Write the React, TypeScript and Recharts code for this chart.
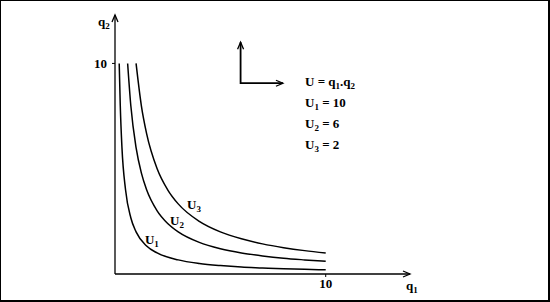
import { LineChart, Line, XAxis, YAxis, Scatter } from 'recharts';

// indifference curves (q1 -> q2)
const q1Top = [1, 1.25, 1.5, 2, 2.5, 3, 4, 5, 6, 7, 8, 9, 10];
const q2Top = [10, 8, 6.67, 5, 4, 3.33, 2.5, 2, 1.67, 1.43, 1.25, 1.11, 1];

const q1Mid = [0.6, 0.75, 1, 1.25, 1.5, 2, 2.5, 3, 4, 5, 6, 7, 8, 9, 10];
const q2Mid = [10, 8, 6, 4.8, 4, 3, 2.4, 2, 1.5, 1.2, 1, 0.86, 0.75, 0.67, 0.6];

const q1Low = [0.2, 0.25, 0.33, 0.5, 0.75, 1, 1.5, 2, 3, 4, 5, 6, 7, 8, 9, 10];
const q2Low = [10, 8, 6, 4, 2.67, 2, 1.33, 1, 0.67, 0.5, 0.4, 0.33, 0.29, 0.25, 0.22, 0.2];

const xTicks = [10];
const yTicks = [10];

const curveLabels = [
  { q1: 3.42, q2: 3.1, sub: '3' },
  { q1: 2.61, q2: 2.32, sub: '2' },
  { q1: 1.42, q2: 1.43, sub: '1' },
];

const legendLines = [
  { sub: '1', value: '10' },
  { sub: '2', value: '6' },
  { sub: '3', value: '2' },
];

// small "axes" sketch next to the legend
const sketch = [
  { q1: 5.96, q2: 11.01 },
  { q1: 5.96, q2: 9.06 },
  { q1: 7.97, q2: 9.06 },
];
const arrowsRight = [{ q1: 14, q2: 0 }, { q1: 7.97, q2: 9.06 }];
const arrowsUp = [{ q1: 0, q2: 12.3 }, { q1: 5.96, q2: 11.01 }];

const zip = (xs: number[], ys: number[]) => xs.map((q1, i) => ({ q1, q2: ys[i] }));

const font = 'Liberation Serif, Times New Roman, serif';
const textStyle = { fontFamily: font, fontWeight: 700, fontSize: 13, fill: '#000' };

const RightArrow = (props: any) => {
  const { cx, cy } = props;
  return <path d={`M${cx - 7},${cy - 3} L${cx},${cy} L${cx - 7},${cy + 3}`} stroke="#000" strokeWidth={1.3} fill="none" />;
};

const UpArrow = (props: any) => {
  const { cx, cy } = props;
  return <path d={`M${cx - 3},${cy + 7} L${cx},${cy} L${cx + 3},${cy + 7}`} stroke="#000" strokeWidth={1.3} fill="none" />;
};

const CurveLabel = (props: any) => {
  const { cx, cy, payload } = props;
  return (
    <text x={cx} y={cy} style={textStyle}>
      U<tspan fontSize={9} dy={3}>{payload.sub}</tspan>
    </text>
  );
};

export default function App() {
  return (
    <div
      style={{
        position: 'absolute',
        left: 0,
        top: 0,
        width: 550,
        height: 302,
        boxSizing: 'border-box',
        borderTop: '1px solid #000',
        borderLeft: '1px solid #000',
        borderRight: '2px solid #000',
        borderBottom: '2px solid #000',
        background: '#fff',
      }}
    >
      <div style={{ position: 'absolute', left: -1, top: -1 }}>
        <LineChart width={550} height={302} margin={{ top: 15, right: 140, bottom: 8, left: 95 }}>
          <XAxis
            type="number"
            dataKey="q1"
            domain={[0, 14]}
            ticks={xTicks}
            height={20}
            axisLine={{ stroke: '#000', strokeWidth: 1.3 }}
            tickLine={{ stroke: '#000' }}
            tickSize={3}
            tickMargin={2}
            tick={textStyle}
          />
          <YAxis
            type="number"
            dataKey="q2"
            domain={[0, 12.3]}
            ticks={yTicks}
            width={20}
            axisLine={{ stroke: '#000', strokeWidth: 1.3 }}
            tickLine={{ stroke: '#000' }}
            tickSize={3}
            tickMargin={5}
            tick={textStyle}
          />
          <Line data={zip(q1Top, q2Top)} dataKey="q2" type="monotone" stroke="#000" strokeWidth={1.5} dot={false} isAnimationActive={false} />
          <Line data={zip(q1Mid, q2Mid)} dataKey="q2" type="monotone" stroke="#000" strokeWidth={1.5} dot={false} isAnimationActive={false} />
          <Line data={zip(q1Low, q2Low)} dataKey="q2" type="monotone" stroke="#000" strokeWidth={1.5} dot={false} isAnimationActive={false} />
          <Line data={sketch} dataKey="q2" type="linear" stroke="#000" strokeWidth={1.8} dot={false} isAnimationActive={false} />
          <Scatter data={arrowsRight} dataKey="q2" shape={<RightArrow />} isAnimationActive={false} />
          <Scatter data={arrowsUp} dataKey="q2" shape={<UpArrow />} isAnimationActive={false} />
          <Scatter data={curveLabels} dataKey="q2" shape={<CurveLabel />} isAnimationActive={false} />

          <text x={98} y={26} style={textStyle}>
            q<tspan fontSize={9} dy={3}>2</tspan>
          </text>
          <text x={406} y={290} style={textStyle}>
            q<tspan fontSize={9} dy={3}>1</tspan>
          </text>

          <text x={305} y={86} style={textStyle}>
            U = q<tspan fontSize={9} dy={3}>1</tspan>
            <tspan dy={-3}>.q</tspan>
            <tspan fontSize={9} dy={3}>2</tspan>
          </text>
          {legendLines.map((l, i) => (
            <text key={l.sub} x={305} y={107 + i * 21} style={textStyle}>
              U<tspan fontSize={9} dy={3}>{l.sub}</tspan>
              <tspan dy={-3}>{` = ${l.value}`}</tspan>
            </text>
          ))}
        </LineChart>
      </div>
    </div>
  );
}
